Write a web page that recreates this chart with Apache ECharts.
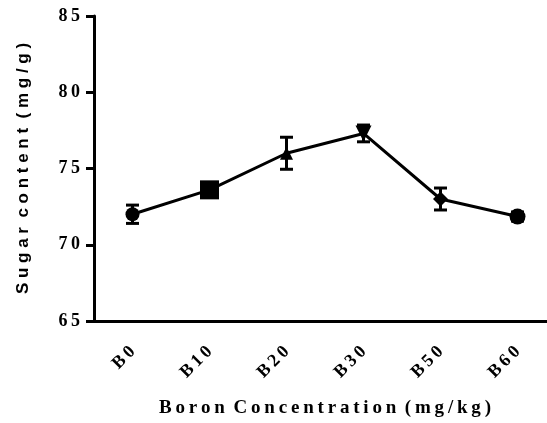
<!DOCTYPE html>
<html>
<head>
<meta charset="utf-8">
<script src="https://cdn.jsdelivr.net/npm/echarts@6/dist/echarts.min.js"></script>
<style>html,body{margin:0;padding:0;background:#fff;overflow:hidden}#c{width:556px;height:423px}</style>
</head>
<body>
<div id="c"></div>
<script>
const categories = ['B0', 'B10', 'B20', 'B30', 'B50', 'B60'];
const sugar = [72.0, 73.6, 76.0, 77.3, 73.0, 71.85];
const sugarErr = [0.6, 0.4, 1.05, 0.55, 0.72, 0.3];
const yTicks = [65, 70, 75, 80, 85];
const xTitle = 'Boron Concentration (mg/kg)';
const yTitle = 'Sugar content (mg/g)';
const markers = ['circle', 'rect', 'triangle', 'triangle', 'diamond', 'circle'];
const markerSizes = [14, 19, 13, 16, 15, 16];
const markerRot = [0, 0, 0, 180, 0, 0];

function spaced(s, gap, wordGap) {
  return s.split(' ').map(w => w.split('').join(gap)).join(wordGap);
}

const chart = echarts.init(document.getElementById('c'));
const lineData = sugar.map((v, i) => ({
  value: v, symbol: markers[i], symbolSize: markerSizes[i], symbolRotate: markerRot[i]
}));
const errData = sugar.map((v, i) => [i, v - sugarErr[i], v + sugarErr[i]]);

chart.setOption({
  animation: false,
  grid: { left: 94, right: 0, top: 16, bottom: 100, containLabel: false },
  xAxis: {
    type: 'category', data: categories, boundaryGap: true,
    axisLine: { lineStyle: { color: '#000', width: 3 } },
    axisTick: { alignWithLabel: true, length: 8, lineStyle: { color: '#000', width: 3 } },
    axisLabel: { rotate: 45, margin: 28, color: '#000', fontFamily: 'Liberation Serif', fontWeight: 'bold', fontSize: 18,
      formatter: v => v.split('').join('\u2009') },
    name: spaced(xTitle, '\u2009', ' \u2009'), nameLocation: 'middle', nameGap: 78,
    nameTextStyle: { color: '#000', fontFamily: 'Liberation Serif', fontWeight: 'bold', fontSize: 19 }
  },
  yAxis: {
    type: 'value', min: yTicks[0], max: yTicks[yTicks.length - 1], interval: 5,
    axisLine: { show: true, lineStyle: { color: '#000', width: 3 } },
    axisTick: { show: true, length: 8, lineStyle: { color: '#000', width: 3 } },
    splitLine: { show: false },
    axisLabel: { margin: 14, color: '#000', fontFamily: 'Liberation Serif', fontWeight: 'bold', fontSize: 18,
      formatter: v => String(v).split('').join('\u2009') },
    name: spaced(yTitle, ' ', '  '), nameLocation: 'middle', nameGap: 62, nameRotate: 90,
    nameTextStyle: { color: '#000', fontFamily: 'Liberation Sans', fontWeight: 'bold', fontSize: 17 }
  },
  series: [
    {
      type: 'line', data: lineData, z: 3,
      lineStyle: { color: '#000', width: 3 },
      itemStyle: { color: '#000', borderWidth: 0 }
    },
    {
      type: 'custom', z: 4, data: errData,
      renderItem: function (params, api) {
        const x = api.value(0);
        const lo = api.coord([x, api.value(1)]);
        const hi = api.coord([x, api.value(2)]);
        const w = 6.5;
        const st = { stroke: '#000', lineWidth: 3 };
        return {
          type: 'group', children: [
            { type: 'line', shape: { x1: lo[0], y1: lo[1], x2: hi[0], y2: hi[1] }, style: st },
            { type: 'line', shape: { x1: lo[0] - w, y1: lo[1], x2: lo[0] + w, y2: lo[1] }, style: st },
            { type: 'line', shape: { x1: hi[0] - w, y1: hi[1], x2: hi[0] + w, y2: hi[1] }, style: st }
          ]
        };
      }
    }
  ]
});
</script>
</body>
</html>
